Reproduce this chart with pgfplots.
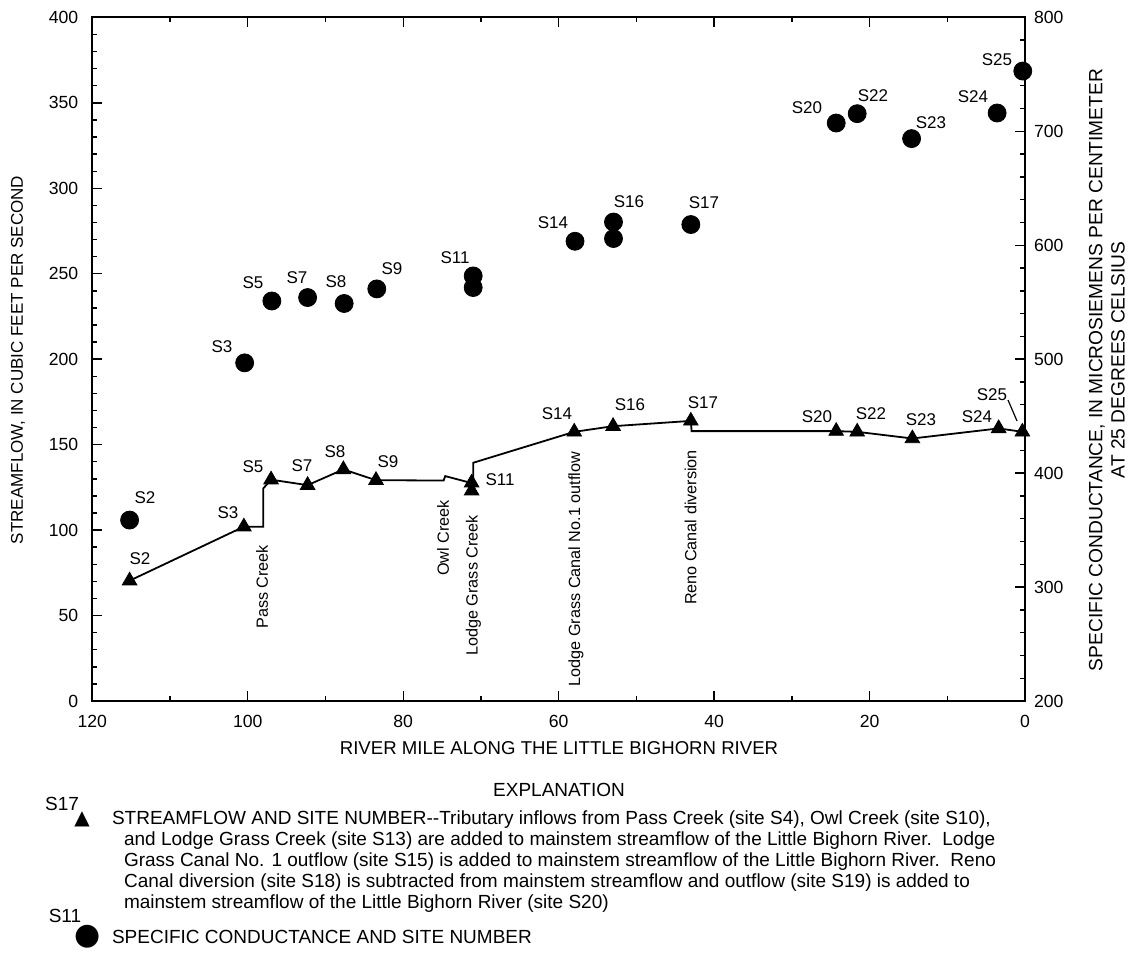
\documentclass[border=0pt]{standalone}
\usepackage{fontspec}
\setmainfont{Liberation Sans}
\newfontfamily\symfont{DejaVu Sans}
\usepackage{pgfplots}
\pgfplotsset{compat=1.18}

% one px of the reference = 0.5pt; axis box is 92.3..1025 x 17.5..701 px
\pgfplotsset{
  lbh/.style={
    at={(0,0)}, anchor=south west,
    scale only axis, width=466.4pt, height=341.8pt,
    x dir=reverse, xmin=0, xmax=120,
    clip=false,
    axis line style={line width=0.9pt},
    tick style={line width=0.7pt, black},
    major tick length=5pt, minor tick length=2.5pt,
    tick align=inside,
    tick label style={font=\fontsize{8.8}{10}\selectfont},
    xticklabel style={yshift=-3.5pt},
    /pgf/number format/assume math mode=true,
  }
}

\begin{document}
\begin{tikzpicture}[px/.style={shift={(-46.15pt,350.5pt)}, x=0.5pt, y=-0.5pt}]
\path[px, use as bounding box] (0,0) rectangle (1128,973);

% streamflow (left axis)
\begin{axis}[lbh,
    ymin=0, ymax=400,
    ytick={0,50,...,400}, minor y tick num=4,
    xtick={0,20,...,120}, minor x tick num=1,
    ytick pos=left,
    yticklabel style={xshift=-3.5pt}]
\addplot[black, line width=0.9pt, no marks] coordinates {
    (115.2,70.4) (100.5,102.0) (98.0,102.0) (98.0,124.4) (97.0,129.5)
    (92.3,126.3) (87.7,135.5) (83.5,129.2) (74.8,129.0) (74.6,131.6)
    (71.2,127.5) (71.0,127.5) (71.0,139.4) (58.0,157.5) (53.0,160.8)
    (43.0,163.9) (42.9,157.9) (24.3,157.9) (21.6,157.5) (14.5,153.6)
    (3.4,159.5) (0.35,157.5)
};
\addplot[only marks, mark=triangle*, mark size=4.2pt, black] coordinates {
    (115.2,70.4) (100.5,102.0) (97.0,129.5) (92.3,126.3) (87.7,135.5)
    (83.5,129.2) (71.2,127.7) (71.2,123.0) (58.0,157.5) (53.0,160.8)
    (43.0,163.9) (24.3,157.9) (21.6,157.5) (14.5,153.6) (3.4,159.5)
    (0.35,157.5)
};
\end{axis}

% specific conductance (right axis)
\begin{axis}[lbh,
    ymin=200, ymax=800,
    ytick={200,300,...,800}, minor y tick num=4,
    axis y line*=right, axis x line=none,
    yticklabel style={xshift=1pt}]
\addplot[only marks, mark=*, mark size=4.5pt, black] coordinates {
    (115.2,358.8) (100.4,496.8) (96.9,551.1) (92.3,554.1) (87.6,548.9)
    (83.4,561.7) (71.0,573.1) (71.0,562.9) (57.9,603.5) (52.95,620.4)
    (52.95,605.9) (43.0,618.2) (24.3,707.3) (21.6,715.5) (14.6,693.6)
    (3.6,716.1) (0.3,752.9)
};
\end{axis}

\begin{scope}[px, font=\fontsize{8.5}{10}\selectfont]
% axis titles
\node[rotate=90] at (18,360) {STREAMFLOW, IN CUBIC FEET PER SECOND};
\node[rotate=90, font=\fontsize{9.6}{10}\selectfont] at (1097,370) {SPECIFIC CONDUCTANCE, IN MICROSIEMENS PER CENTIMETER};
\node[rotate=90, font=\fontsize{9.6}{10}\selectfont] at (1118,360) {AT 25 DEGREES CELSIUS};
\node[font=\fontsize{9.3}{10}\selectfont] at (559,748) {RIVER MILE ALONG THE LITTLE BIGHORN RIVER};

% site labels, streamflow
\node at (140,559) {S2};
\node at (228,513) {S3};
\node at (253,467) {S5};
\node at (302,466) {S7};
\node at (335,452) {S8};
\node at (388,462) {S9};
\node at (500,480) {S11};
\node at (557,414) {S14};
\node at (630,405) {S16};
\node at (703,403) {S17};
\node at (817,417) {S20};
\node at (871,414) {S22};
\node at (921,420) {S23};
\node at (977,417) {S24};
\node at (992,395) {S25};
\draw[line width=0.6pt] (1008,400) -- (1017,421);

% site labels, conductance
\node at (145,498) {S2};
\node at (222,347) {S3};
\node at (253,283) {S5};
\node at (297,278) {S7};
\node at (336,282) {S8};
\node at (392,269) {S9};
\node at (455,258) {S11};
\node at (553,223) {S14};
\node at (629,202) {S16};
\node at (704,203) {S17};
\node at (807,108) {S20};
\node at (873,96) {S22};
\node at (931,123) {S23};
\node at (973,97) {S24};
\node at (997,60) {S25};

% tributaries and diversions
\begin{scope}[font=\fontsize{8.1}{10}\selectfont]
\node[rotate=90, anchor=east] at (262,538) {Pass Creek};
\node[rotate=90, anchor=east] at (443,493) {Owl Creek};
\node[rotate=90, anchor=east] at (473.5,508) {Lodge Grass Creek};
\node[rotate=90, anchor=east] at (576,445) {Lodge Grass Canal No.1 outflow};
\node[rotate=90, anchor=east] at (690.5,443) {Reno Canal diversion};
\end{scope}

% explanation
\begin{scope}[font=\fontsize{9.5}{10}\selectfont]
\node at (559,790) {EXPLANATION};
\node at (62,804) {S17};
\node at (82,819) {\symfont\fontsize{10}{10}\selectfont ▲};
\node[anchor=base west] at (105,824) {STREAMFLOW AND SITE NUMBER-{}-Tributary inflows from Pass Creek (site S4), Owl Creek (site S10),};
\node[anchor=base west] at (117,845) {and Lodge Grass Creek (site S13) are added to mainstem streamflow of the Little Bighorn River.\ \ Lodge};
\node[anchor=base west] at (117,866) {Grass Canal No. 1 outflow (site S15) is added to mainstem streamflow of the Little Bighorn River.\ \ Reno};
\node[anchor=base west] at (117,887) {Canal diversion (site S18) is subtracted from mainstem streamflow and outflow (site S19) is added to};
\node[anchor=base west] at (117,908) {mainstem streamflow of the Little Bighorn River (site S20)};
\node at (65,916) {S11};
\node at (88,937) {\symfont\fontsize{15}{15}\selectfont ●};
\node[anchor=base west] at (105,943) {SPECIFIC CONDUCTANCE AND SITE NUMBER};
\end{scope}
\end{scope}
\end{tikzpicture}
\end{document}
